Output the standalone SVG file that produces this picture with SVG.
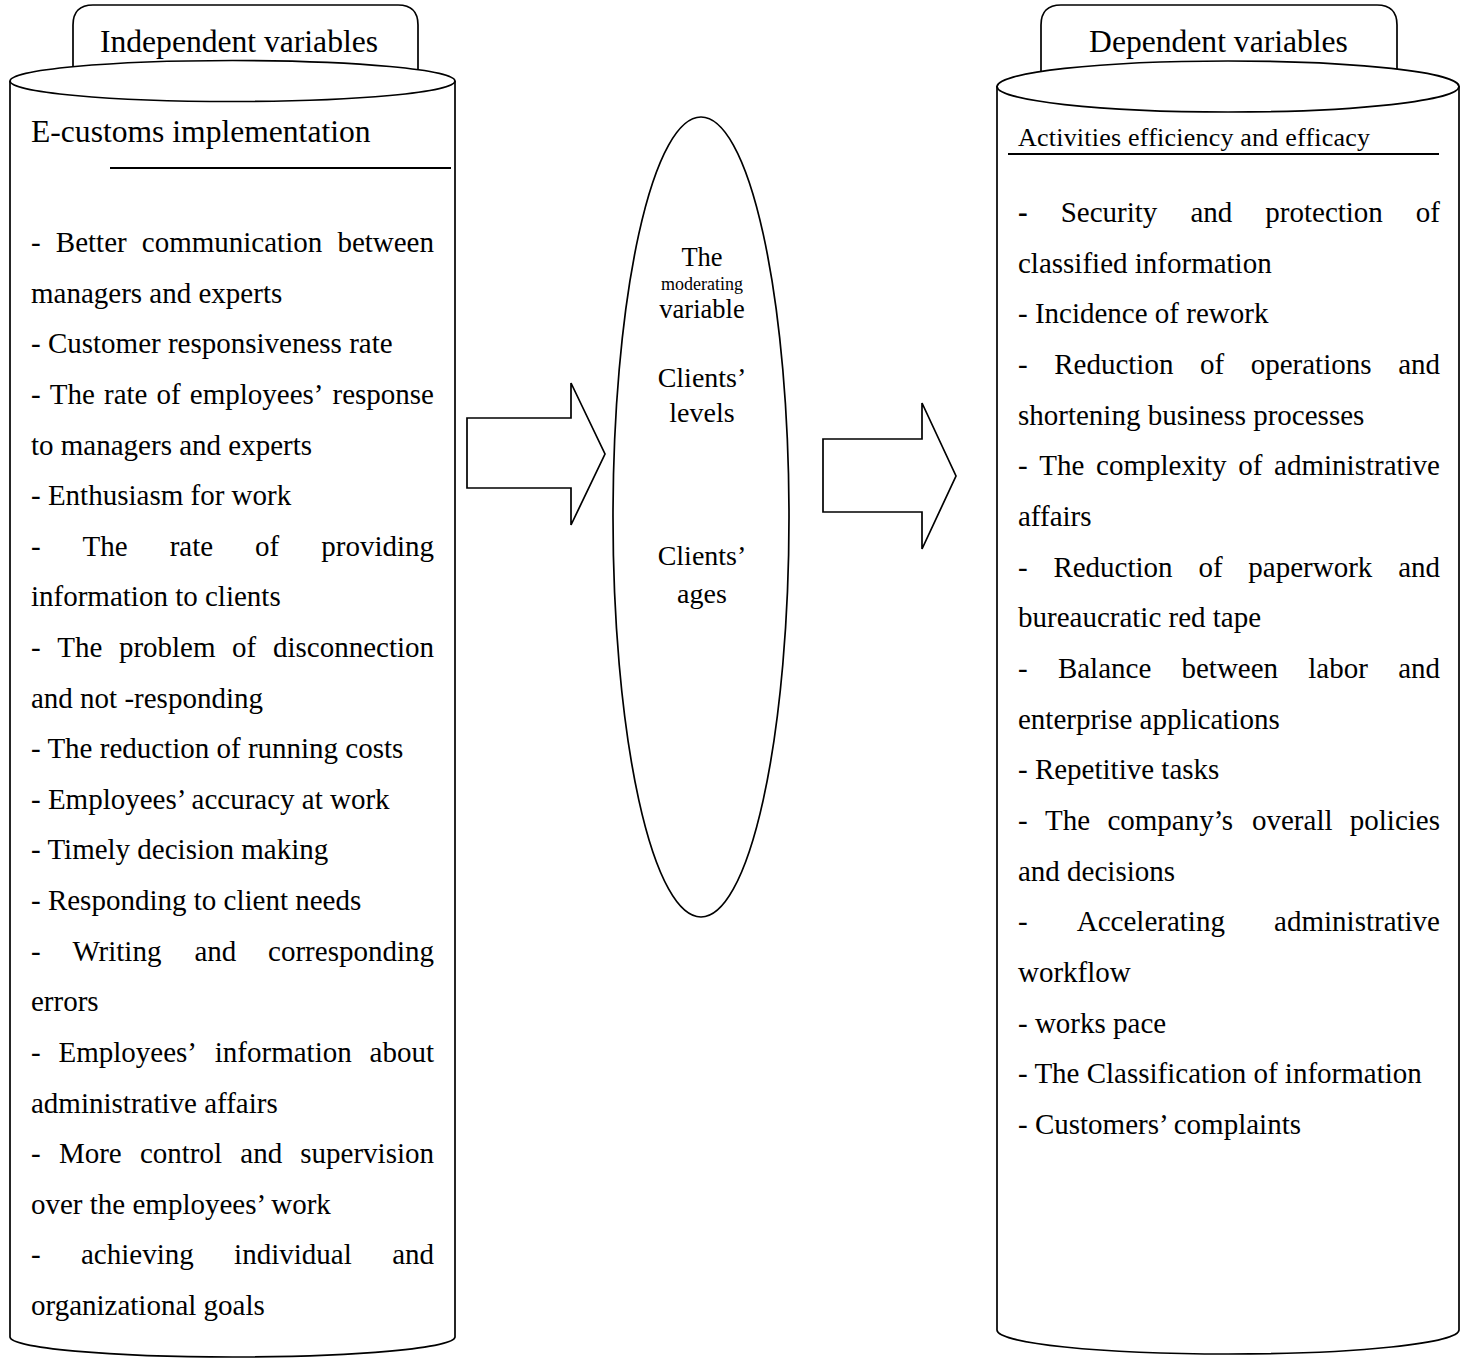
<svg xmlns="http://www.w3.org/2000/svg" width="1465" height="1360" viewBox="0 0 1465 1360">
<style>
.s{fill:#fff;stroke:#000;stroke-width:1.7}
.ln{stroke:#000;stroke-width:2;fill:none}
text{font-family:"Liberation Serif","Times New Roman",serif;fill:#000}
.t{font-size:31.6px}
.b{font-size:29px}
.m{font-size:26.5px;text-anchor:middle}
.e{text-anchor:end}
</style>
<g id="independent">
<path class="s" d="M73,80 V25 Q73,5 93,5 H398 Q418,5 418,25 V80"/>
<text class="t" x="239" y="52" text-anchor="middle">Independent variables</text>
<path class="s" d="M10,81 V1337 A222.5,20 0 0 0 455,1337 V81"/>
<ellipse class="s" cx="232.5" cy="81" rx="222.5" ry="20.5"/>
<text class="t" x="31" y="142">E-customs implementation</text>
<line class="ln" x1="110" y1="168" x2="451" y2="168"/>
<g class="b">
<text y="252"><tspan x="31">-</tspan><tspan x="55.8">Better</tspan><tspan x="141.8">communication</tspan><tspan x="434" class="e">between</tspan></text>
<text x="31" y="302.6">managers and experts</text>
<text x="31" y="353.2">- Customer responsiveness rate</text>
<text y="403.9"><tspan x="31">-</tspan><tspan x="49.8">The</tspan><tspan x="104">rate</tspan><tspan x="156.5">of</tspan><tspan x="189.8">employees’</tspan><tspan x="434" class="e">response</tspan></text>
<text x="31" y="454.5">to managers and experts</text>
<text x="31" y="505.1">- Enthusiasm for work</text>
<text y="555.7"><tspan x="31">-</tspan><tspan x="82.6">The</tspan><tspan x="169.7">rate</tspan><tspan x="255.1">of</tspan><tspan x="434" class="e">providing</tspan></text>
<text x="31" y="606.3">information to clients</text>
<text y="657"><tspan x="31">-</tspan><tspan x="57.2">The</tspan><tspan x="118.9">problem</tspan><tspan x="232.1">of</tspan><tspan x="434" class="e">disconnection</tspan></text>
<text x="31" y="707.6">and not -responding</text>
<text x="31" y="758.2">- The reduction of running costs</text>
<text x="31" y="808.8">- Employees’ accuracy at work</text>
<text x="31" y="859.4">- Timely decision making</text>
<text x="31" y="910.1">- Responding to client needs</text>
<text y="960.7"><tspan x="31">-</tspan><tspan x="72.4">Writing</tspan><tspan x="194.4">and</tspan><tspan x="434" class="e">corresponding</tspan></text>
<text x="31" y="1011.3">errors</text>
<text y="1061.9"><tspan x="31">-</tspan><tspan x="58.5">Employees’</tspan><tspan x="214.8">information</tspan><tspan x="434" class="e">about</tspan></text>
<text x="31" y="1112.5">administrative affairs</text>
<text y="1163.2"><tspan x="31">-</tspan><tspan x="58.9">More</tspan><tspan x="139.9">control</tspan><tspan x="240.3">and</tspan><tspan x="434" class="e">supervision</tspan></text>
<text x="31" y="1213.8">over the employees’ work</text>
<text y="1264.4"><tspan x="31">-</tspan><tspan x="81">achieving</tspan><tspan x="234.1">individual</tspan><tspan x="434" class="e">and</tspan></text>
<text x="31" y="1315">organizational goals</text>
</g>
</g>
<g id="moderating">
<ellipse class="s" cx="701" cy="517" rx="88" ry="400"/>
<text class="m" x="702" y="266">The</text>
<text x="702" y="290" style="font-size:18px;text-anchor:middle">moderating</text>
<text class="m" x="702" y="318">variable</text>
<text class="m" x="702" y="387" style="font-size:28px">Clients’</text>
<text class="m" x="702" y="422" style="font-size:28px">levels</text>
<text class="m" x="702" y="565" style="font-size:28px">Clients’</text>
<text class="m" x="702" y="603" style="font-size:28px">ages</text>
</g>
<g id="dependent">
<path class="s" d="M1041,85 V25 Q1041,5 1061,5 H1377 Q1397,5 1397,25 V85"/>
<text class="t" x="1218.5" y="52" text-anchor="middle">Dependent variables</text>
<path class="s" d="M997,86 V1330 A231,24 0 0 0 1459,1330 V86"/>
<ellipse class="s" cx="1228" cy="86.5" rx="231" ry="25.5"/>
<text x="1018" y="146" style="font-size:26px" textLength="352" lengthAdjust="spacing">Activities efficiency and efficacy</text>
<line class="ln" x1="1008" y1="154" x2="1439" y2="154"/>
<g class="b">
<text y="222"><tspan x="1018" font-weight="bold">-</tspan><tspan x="1060.7">Security</tspan><tspan x="1190.4">and</tspan><tspan x="1265.3">protection</tspan><tspan x="1440" class="e">of</tspan></text>
<text x="1018" y="272.7">classified information</text>
<text x="1018" y="323.3">- Incidence of rework</text>
<text y="374"><tspan x="1018">-</tspan><tspan x="1054.2">Reduction</tspan><tspan x="1200">of</tspan><tspan x="1250.7">operations</tspan><tspan x="1440" class="e">and</tspan></text>
<text x="1018" y="424.7">shortening business processes</text>
<text y="475.3"><tspan x="1018">-</tspan><tspan x="1039.3">The</tspan><tspan x="1096.1">complexity</tspan><tspan x="1238.3">of</tspan><tspan x="1440" class="e">administrative</tspan></text>
<text x="1018" y="526">affairs</text>
<text y="576.7"><tspan x="1018">-</tspan><tspan x="1053.4">Reduction</tspan><tspan x="1198.4">of</tspan><tspan x="1248.3">paperwork</tspan><tspan x="1440" class="e">and</tspan></text>
<text x="1018" y="627.4">bureaucratic red tape</text>
<text y="678"><tspan x="1018">-</tspan><tspan x="1057.9">Balance</tspan><tspan x="1181.5">between</tspan><tspan x="1308.3">labor</tspan><tspan x="1440" class="e">and</tspan></text>
<text x="1018" y="728.7">enterprise applications</text>
<text x="1018" y="779.4">- Repetitive tasks</text>
<text y="830"><tspan x="1018">-</tspan><tspan x="1045">The</tspan><tspan x="1107.4">company’s</tspan><tspan x="1252">overall</tspan><tspan x="1440" class="e">policies</tspan></text>
<text x="1018" y="880.7">and decisions</text>
<text y="931.4"><tspan x="1018">-</tspan><tspan x="1076.8">Accelerating</tspan><tspan x="1440" class="e">administrative</tspan></text>
<text x="1018" y="982">workflow</text>
<text x="1018" y="1032.7">- works pace</text>
<text x="1018" y="1083.4">- The Classification of information</text>
<text x="1018" y="1134">- Customers’ complaints</text>
</g>
</g>
<g id="connectors">
<polygon class="s" points="467,418 571,418 571,383 605,454 571,525 571,488 467,488"/>
<polygon class="s" points="823,439 922,439 922,403 956,476 922,549 922,512 823,512"/>
</g>
</svg>
